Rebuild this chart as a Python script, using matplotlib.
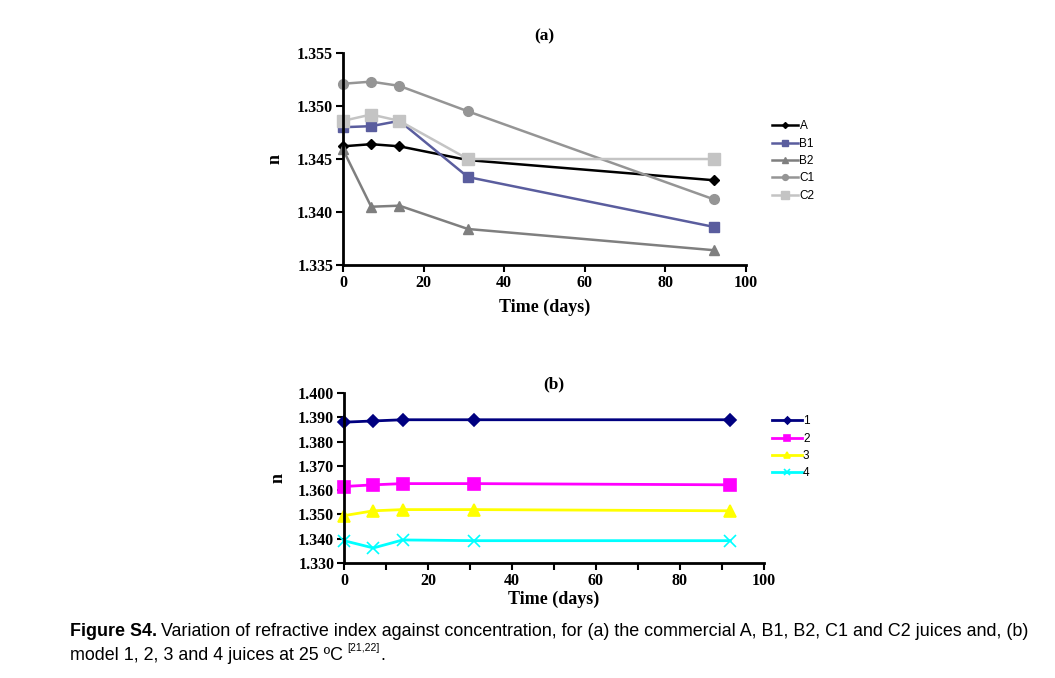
import numpy as np
import matplotlib.pyplot as plt
from matplotlib.ticker import MultipleLocator

days = [0, 7, 14, 31, 92]

# panel (a): commercial juices
a_labels = ["A", "B1", "B2", "C1", "C2"]
n_A = [1.3462, 1.3464, 1.3462, 1.3449, 1.3430]
n_B1 = [1.3480, 1.3481, 1.3486, 1.3433, 1.3386]
n_B2 = [1.3459, 1.3405, 1.3406, 1.3384, 1.3364]
n_C1 = [1.3521, 1.3523, 1.3519, 1.3495, 1.3412]
n_C2 = [1.3486, 1.3492, 1.3486, 1.3450, 1.3450]

# panel (b): model juices
b_labels = ["1", "2", "3", "4"]
n_1 = [1.3880, 1.3885, 1.3890, 1.3890, 1.3890]
n_2 = [1.3615, 1.3622, 1.3627, 1.3627, 1.3622]
n_3 = [1.3495, 1.3515, 1.3520, 1.3520, 1.3515]
n_4 = [1.3392, 1.3362, 1.3395, 1.3392, 1.3392]

serif = "Liberation Serif"
sans = "Liberation Sans"

fig = plt.figure(figsize=(10.55, 6.78), dpi=100)


def style_axes(ax):
    for s in ["top", "right"]:
        ax.spines[s].set_visible(False)
    for s in ["left", "bottom"]:
        ax.spines[s].set_linewidth(2)
    ax.tick_params(which="both", direction="out", width=1.5, length=5, pad=2)
    for lab in ax.get_xticklabels() + ax.get_yticklabels():
        lab.set_fontfamily(serif)
        lab.set_fontweight("bold")
        lab.set_fontsize(11.5)


# ---- (a)
ax1 = fig.add_axes([0.3251, 0.6091, 0.382, 0.3127])
styles_a = [
    (n_A, "#000000", "D", 5, 1.8),
    (n_B1, "#5a5d9e", "s", 7, 1.8),
    (n_B2, "#7f7f7f", "^", 7, 1.8),
    (n_C1, "#959595", "o", 7, 1.8),
    (n_C2, "#c4c4c4", "s", 9, 1.8),
]
handles = []
for (vals, col, mk, ms, lw), lab in zip(styles_a, a_labels):
    h, = ax1.plot(days, vals, color=col, marker=mk, markersize=ms, lw=lw, label=lab, clip_on=False)
    handles.append(h)
ax1.set_xlim(0, 100)
ax1.set_ylim(1.335, 1.355)
ax1.xaxis.set_major_locator(MultipleLocator(20))
ax1.yaxis.set_major_locator(MultipleLocator(0.005))
ax1.yaxis.set_major_formatter(plt.FormatStrFormatter("%.3f"))
style_axes(ax1)
ax1.set_title("(a)", fontfamily=serif, fontweight="bold", fontsize=12.5, pad=9)
ax1.set_xlabel("Time (days)", fontfamily=serif, fontweight="bold", fontsize=13, labelpad=5.5)
ax1.set_ylabel("n", fontfamily=serif, fontweight="bold", fontsize=13, labelpad=10)
leg1 = fig.legend(handles=handles, loc="upper left", bbox_to_anchor=(0.722, 0.838),
                  frameon=False, prop={"family": sans, "size": 8.5}, handlelength=2.2,
                  handletextpad=0.1, labelspacing=0.45, markerscale=0.6)

# ---- (b)
ax2 = fig.add_axes([0.326, 0.1696, 0.398, 0.2507])
styles_b = [
    (n_1, "#000080", "D", 6),
    (n_2, "#ff00ff", "s", 8),
    (n_3, "#ffff00", "^", 8),
    (n_4, "#00ffff", "x", 8),
]
handles2 = []
for (vals, col, mk, ms), lab in zip(styles_b, b_labels):
    h, = ax2.plot(days, vals, color=col, marker=mk, markersize=ms, lw=2, label=lab,
                  markeredgewidth=1.2, clip_on=False)
    handles2.append(h)
ax2.set_xlim(0, 100)
ax2.set_ylim(1.330, 1.400)
ax2.xaxis.set_major_locator(MultipleLocator(20))
ax2.xaxis.set_minor_locator(MultipleLocator(10))
ax2.yaxis.set_major_locator(MultipleLocator(0.01))
ax2.yaxis.set_major_formatter(plt.FormatStrFormatter("%.3f"))
style_axes(ax2)
ax2.set_title("(b)", fontfamily=serif, fontweight="bold", fontsize=12.5, pad=3)
ax2.set_xlabel("Time (days)", fontfamily=serif, fontweight="bold", fontsize=13, labelpad=1.5)
ax2.set_ylabel("n", fontfamily=serif, fontweight="bold", fontsize=13, labelpad=8)
leg2 = fig.legend(handles=handles2, loc="upper left", bbox_to_anchor=(0.722, 0.403),
                  frameon=False, prop={"family": sans, "size": 8.5}, handlelength=2.5,
                  handletextpad=0.1, labelspacing=0.45, markerscale=0.6)

# ---- caption
fig.canvas.draw()
r = fig.canvas.get_renderer()
cap_font = ["Liberation Sans Narrow", "Liberation Sans", "DejaVu Sans"]
t1 = fig.text(0.066, 0.062, "Figure S4.", fontweight="bold", fontsize=12.9, family=cap_font)
bb = t1.get_window_extent(r)
fig.text(bb.x1 / fig.bbox.width + 0.004, 0.062,
         "Variation of refractive index against concentration, for (a) the commercial A, B1, B2, C1 and C2 juices and, (b)",
         fontsize=12.9, family=cap_font)
t3 = fig.text(0.066, 0.027, "model 1, 2, 3 and 4 juices at 25 \u00baC ", fontsize=12.9, family=cap_font)
bb3 = t3.get_window_extent(r)
t4 = fig.text(bb3.x1 / fig.bbox.width, 0.040, "[21,22]", fontsize=7.5, family=cap_font)
bb4 = t4.get_window_extent(r)
fig.text(bb4.x1 / fig.bbox.width, 0.027, ".", fontsize=12.9, family=cap_font)

fig.savefig("out.png", dpi=100)
